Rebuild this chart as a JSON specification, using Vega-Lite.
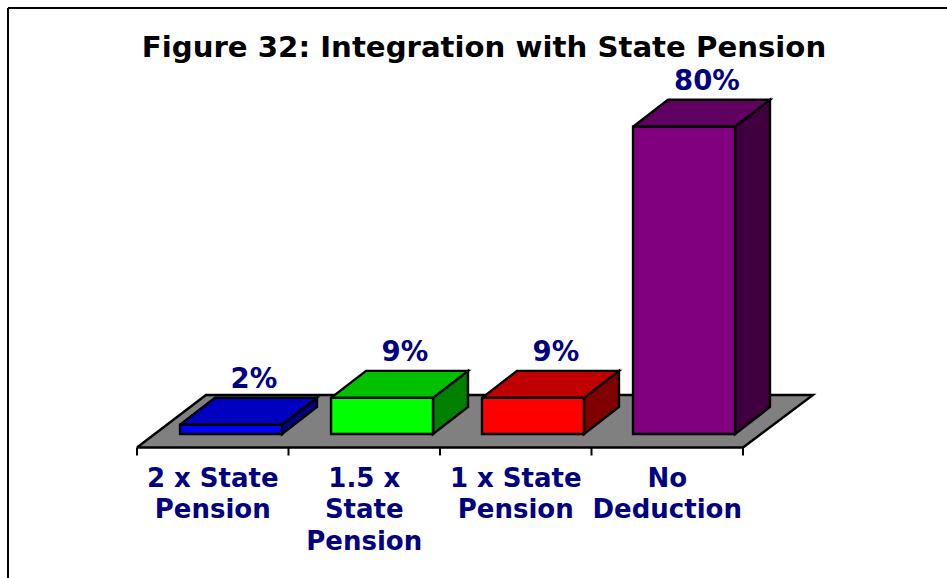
{
"$schema":"https://vega.github.io/schema/vega-lite/v6.json",
"width":939,"height":570,"autosize":"none","padding":{"left":8,"top":8,"right":0,"bottom":0},
"background":"white",
"config":{"view":{"stroke":null},"font":"DejaVu Sans"},
"title":{"text":"Figure 32: Integration with State Pension","font":"DejaVu Sans","fontSize":29.2,"fontWeight":"bold","color":"black","anchor":"middle","frame":"group","offset":-56,"dx":6.5},
"data":{"values":[
{"category":"2 x State\nPension","value":2.4},
{"category":"1.5 x\nState\nPension","value":9.4},
{"category":"1 x State\nPension","value":9.4},
{"category":"No\nDeduction","value":80}
]},
"transform":[
{"window":[{"op":"row_number","as":"rn"}]},
{"calculate":"datum.rn-1","as":"idx"},
{"calculate":"0.284+datum.idx*0.9967","as":"left"},
{"calculate":"datum.left+0.673","as":"right"},
{"calculate":"datum.idx+0.5","as":"mid"},
{"calculate":"datum.left+0.488","as":"lab"},
{"calculate":"format(datum.value,'.0f')+'%'","as":"label"}
],
"resolve":{"scale":{"fill":"independent"}},
"layer":[
{"data":{"values":[{"face":"floor"}]},
 "transform":[
 {"calculate":"[0,1,2,3,4]","as":"corner"},{"flatten":["corner"]},
 {"calculate":"[0,4,4.462,0.455,0][datum.corner]","as":"px"},
 {"calculate":"[-3.52,-3.52,10.16,10.16,-3.52][datum.corner]","as":"py"}],
 "mark":{"type":"line","fill":"#808080","stroke":"black","strokeWidth":2.4,"strokeJoin":"miter"},
 "encoding":{
 "x":{"field":"px","type":"quantitative","scale":{"domain":[-0.8515,5.3465],"nice":false,"zero":false},"axis":null},
 "y":{"field":"py","type":"quantitative","scale":{"domain":[-37.5,110.94],"nice":false,"zero":false},"axis":null},
 "order":{"field":"corner"}}},
{"data":{"values":[{"axis":"ticks"}]},
 "transform":[
 {"calculate":"[0,1,2,3,4]","as":"boundary"},{"flatten":["boundary"]}],
 "mark":{"type":"rule","color":"black","strokeWidth":2},
 "encoding":{
 "x":{"field":"boundary","type":"quantitative","scale":{"domain":[-0.8515,5.3465],"nice":false,"zero":false},"axis":null},
 "y":{"datum":-3.52,"type":"quantitative","scale":{"domain":[-37.5,110.94],"nice":false,"zero":false},"axis":null},
 "y2":{"datum":-5.6}}},
{"transform":[
 {"calculate":"[0,1,2,3,4]","as":"corner"},{"flatten":["corner"]},
 {"calculate":"[datum.right,datum.right+0.231,datum.right+0.231,datum.right,datum.right][datum.corner]","as":"px"},
 {"calculate":"[datum.value,datum.value+7.03,7.03,0,datum.value][datum.corner]","as":"py"}],
 "mark":{"type":"line","stroke":"black","strokeWidth":2.4,"strokeJoin":"miter"},
 "encoding":{
 "x":{"field":"px","type":"quantitative","scale":{"domain":[-0.8515,5.3465],"nice":false,"zero":false},"axis":null},
 "y":{"field":"py","type":"quantitative","scale":{"domain":[-37.5,110.94],"nice":false,"zero":false},"axis":null},
 "fill":{"field":"category","type":"nominal","sort":null,"legend":null,"scale":{"range":["#000080","#008000","#800000","#400040"]}},
 "detail":{"field":"category"},
 "order":{"field":"corner"}}},
{"transform":[
 {"calculate":"[0,1,2,3,4]","as":"corner"},{"flatten":["corner"]},
 {"calculate":"[datum.left,datum.right,datum.right+0.231,datum.left+0.231,datum.left][datum.corner]","as":"px"},
 {"calculate":"[datum.value,datum.value,datum.value+7.03,datum.value+7.03,datum.value][datum.corner]","as":"py"}],
 "mark":{"type":"line","stroke":"black","strokeWidth":2.4,"strokeJoin":"miter"},
 "encoding":{
 "x":{"field":"px","type":"quantitative","scale":{"domain":[-0.8515,5.3465],"nice":false,"zero":false},"axis":null},
 "y":{"field":"py","type":"quantitative","scale":{"domain":[-37.5,110.94],"nice":false,"zero":false},"axis":null},
 "fill":{"field":"category","type":"nominal","sort":null,"legend":null,"scale":{"range":["#0000C0","#00C000","#C00000","#600060"]}},
 "detail":{"field":"category"},
 "order":{"field":"corner"}}},
{"mark":{"type":"rect","stroke":"black","strokeWidth":2.4},
 "encoding":{
 "x":{"field":"left","type":"quantitative","scale":{"domain":[-0.8515,5.3465],"nice":false,"zero":false},"axis":null},
 "x2":{"field":"right"},
 "y":{"field":"value","type":"quantitative","scale":{"domain":[-37.5,110.94],"nice":false,"zero":false},"axis":null},
 "y2":{"datum":0},
 "fill":{"field":"category","type":"nominal","sort":null,"legend":null,"scale":{"range":["#0000FF","#00FF00","#FF0000","#800080"]}}}},
{"mark":{"type":"text","font":"DejaVu Sans","fontWeight":"bold","fontSize":27.5,"color":"#000080","dy":-45},
 "encoding":{
 "x":{"field":"lab","type":"quantitative","scale":{"domain":[-0.8515,5.3465],"nice":false,"zero":false},"axis":null},
 "y":{"field":"value","type":"quantitative","scale":{"domain":[-37.5,110.94],"nice":false,"zero":false},"axis":null},
 "text":{"field":"label"}}},
{"mark":{"type":"text","font":"DejaVu Sans","fontWeight":"bold","fontSize":26,"color":"#000080","baseline":"top","lineBreak":"\n","lineHeight":31.5,"align":"center"},
 "encoding":{
 "x":{"field":"mid","type":"quantitative","scale":{"domain":[-0.8515,5.3465],"nice":false,"zero":false},"axis":null},
 "y":{"datum":-8.3,"type":"quantitative","scale":{"domain":[-37.5,110.94],"nice":false,"zero":false},"axis":null},
 "text":{"field":"category"}}},
{"data":{"values":[{"frame":"top"}]},
 "mark":{"type":"rule","color":"black","strokeWidth":2},
 "encoding":{
 "x":{"datum":-0.8515,"type":"quantitative","scale":{"domain":[-0.8515,5.3465],"nice":false,"zero":false},"axis":null},
 "x2":{"datum":5.3465},
 "y":{"datum":110.94,"type":"quantitative","scale":{"domain":[-37.5,110.94],"nice":false,"zero":false},"axis":null}}},
{"data":{"values":[{"frame":"left"}]},
 "mark":{"type":"rule","color":"black","strokeWidth":2},
 "encoding":{
 "x":{"datum":-0.8515,"type":"quantitative","scale":{"domain":[-0.8515,5.3465],"nice":false,"zero":false},"axis":null},
 "y":{"datum":110.94,"type":"quantitative","scale":{"domain":[-37.5,110.94],"nice":false,"zero":false},"axis":null},
 "y2":{"datum":-37.5}}}
]
}
